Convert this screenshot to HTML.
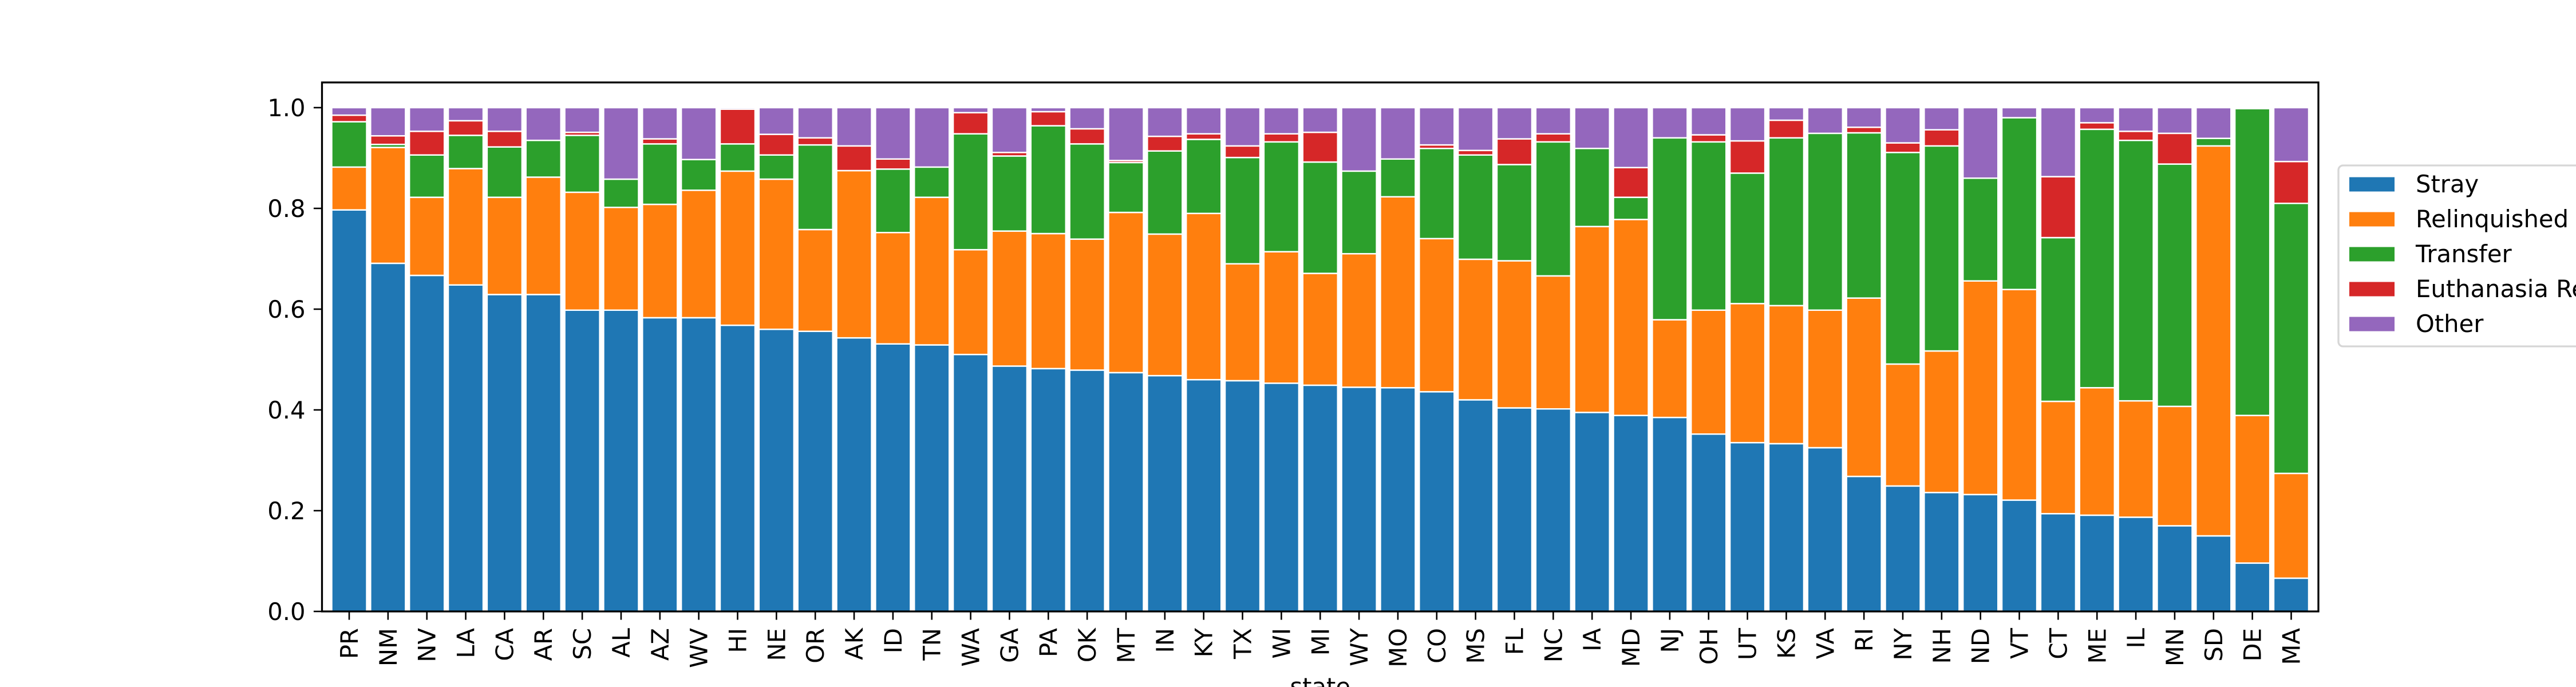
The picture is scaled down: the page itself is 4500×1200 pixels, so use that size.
<!DOCTYPE html>
<html><head><meta charset="utf-8">
<style>
html,body{margin:0;padding:0;background:#fff;}
svg{display:block;font-family:"DejaVu Sans","Liberation Sans",sans-serif;}
</style></head>
<body>
<svg id="chart" width="4500" height="1200" viewBox="0 0 4500 1200" xmlns="http://www.w3.org/2000/svg">
<rect x="0" y="0" width="4500" height="1200" fill="#fff"/>
<g id="bars"></g>
<g id="axes"></g>
<g id="legend"></g>
</svg>
<script>
const states = ["PR","NM","NV","LA","CA","AR","SC","AL","AZ","WV","HI","NE","OR","AK","ID","TN","WA","GA","PA","OK","MT","IN","KY","TX","WI","MI","WY","MO","CO","MS","FL","NC","IA","MD","NJ","OH","UT","KS","VA","RI","NY","NH","ND","VT","CT","ME","IL","MN","SD","DE","MA"];
const stray = [.797,.691,.667,.648,.629,.629,.598,.598,.583,.583,.568,.560,.556,.543,.531,.529,.510,.487,.482,.479,.474,.468,.460,.458,.453,.449,.445,.444,.436,.420,.404,.402,.395,.389,.385,.352,.335,.333,.325,.268,.249,.236,.232,.221,.194,.191,.187,.170,.150,.096,.066];
const relinquished = [.085,.230,.155,.231,.193,.233,.234,.204,.225,.253,.306,.298,.202,.332,.221,.293,.208,.268,.268,.260,.318,.281,.330,.232,.261,.222,.265,.379,.304,.279,.292,.264,.369,.389,.194,.246,.276,.274,.273,.354,.242,.281,.424,.418,.223,.253,.231,.237,.774,.293,.208];
const transfer = [.090,.006,.084,.066,.100,.073,.113,.056,.120,.061,.054,.048,.168,0,.126,.060,.230,.149,.214,.189,.099,.165,.147,.211,.218,.221,.164,.075,.179,.207,.191,.266,.155,.044,.361,.334,.259,.333,.351,.328,.420,.407,.204,.341,.325,.513,.517,.481,.015,.609,.536];
const euthanasia = [.013,.017,.047,.029,.031,0,.006,0,.010,0,.069,.041,.014,.049,.020,0,.042,.007,.028,.030,.004,.029,.011,.023,.016,.059,0,0,.007,.009,.051,.016,0,.059,0,.014,.064,.035,0,.011,.019,.032,0,0,.121,.013,.018,.061,0,0,.083];
const other = [.015,.056,.047,.026,.047,.065,.049,.142,.062,.103,.003,.053,.060,.076,.102,.118,.010,.089,.008,.042,.105,.057,.052,.076,.052,.049,.126,.102,.074,.085,.062,.052,.081,.119,.060,.054,.066,.025,.051,.039,.070,.044,.140,.020,.137,.030,.047,.051,.061,.002,.107];
const seriesNames = ["Stray","Relinquished","Transfer","Euthanasia Requested","Other"];
const seriesColors = ["#1f77b4","#ff7f0e","#2ca02c","#d62728","#9467bd"];
const yTicks = [0,0.2,0.4,0.6,0.8,1.0];
const yTickLabels = ["0.0","0.2","0.4","0.6","0.8","1.0"];

const NS="http://www.w3.org/2000/svg";
const AX={l:562.5,r:4050,t:144,b:1068};
const xMin=-0.7, xMax=states.length-1+0.7, yMax=1.05;
function xS(i){return AX.l+(i-xMin)/(xMax-xMin)*(AX.r-AX.l);}
function yS(v){return AX.b-v/yMax*(AX.b-AX.t);}
function mk(tag,attrs,parent){const e=document.createElementNS(NS,tag);for(const k in attrs)e.setAttribute(k,attrs[k]);parent.appendChild(e);return e;}

const bars=document.getElementById('bars');
const axes=document.getElementById('axes');
const legend=document.getElementById('legend');
const series=[stray,relinquished,transfer,euthanasia,other];
const keys=["stray","relinquished","transfer","euthanasia","other"];
const unit=(AX.r-AX.l)/(xMax-xMin);
const bw=0.9*unit;
for(let i=0;i<states.length;i++){
  let cum=0;
  for(let s=0;s<series.length;s++){
    const v=series[s][i];
    const y0=yS(cum), y1=yS(cum+v);
    const r=mk('rect',{x:xS(i)-bw/2,y:y1,width:bw,height:Math.max(0,y0-y1),fill:seriesColors[s],stroke:'#fff','stroke-width':2.5},bars);
    
    
    cum+=v;
  }
}
// spines
const frame=mk('rect',{x:AX.l,y:AX.t,width:AX.r-AX.l,height:AX.b-AX.t,fill:'none',stroke:'#000','stroke-width':3.3},axes);


// y ticks
for(let k=0;k<yTicks.length;k++){
  const y=yS(yTicks[k]);
  const t=mk('line',{x1:AX.l-14.6,x2:AX.l,y1:y,y2:y,stroke:'#000','stroke-width':2.6},axes);
  
  
  const lb=mk('text',{x:AX.l-29,y:y+15,'text-anchor':'end','font-size':41.7,fill:'#000'},axes);
  lb.textContent=yTickLabels[k];
  
  
}
// x ticks
for(let i=0;i<states.length;i++){
  const x=xS(i);
  const t=mk('line',{x1:x,x2:x,y1:AX.b,y2:AX.b+14.6},axes);
  t.setAttribute('stroke','#000');t.setAttribute('stroke-width','2.6');
  
  
  const lb=mk('text',{x:0,y:0,'text-anchor':'end','font-size':41.7,fill:'#000',transform:`translate(${x+15},${AX.b+29}) rotate(-90)`},axes);
  lb.textContent=states[i];
  
  
}
const xt=mk('text',{x:(AX.l+AX.r)/2,y:1214,'text-anchor':'middle','font-size':41.7,fill:'#000'},axes);
xt.textContent='state';


// legend
const lbox=mk('rect',{x:4085,y:289,width:560,height:316,rx:8,fill:'#fff','fill-opacity':0.8,stroke:'#d6d6d6','stroke-width':3.3},legend);


for(let s=0;s<seriesNames.length;s++){
  const cy=322+s*61;
  const p=mk('rect',{x:4104,y:cy-12.5,width:79,height:25,fill:seriesColors[s]},legend);
  
  
  const tx=mk('text',{x:4220,y:cy+14,'font-size':41.7,fill:'#000'},legend);
  tx.textContent=seriesNames[s];
  
  
}
</script>
</body></html>
